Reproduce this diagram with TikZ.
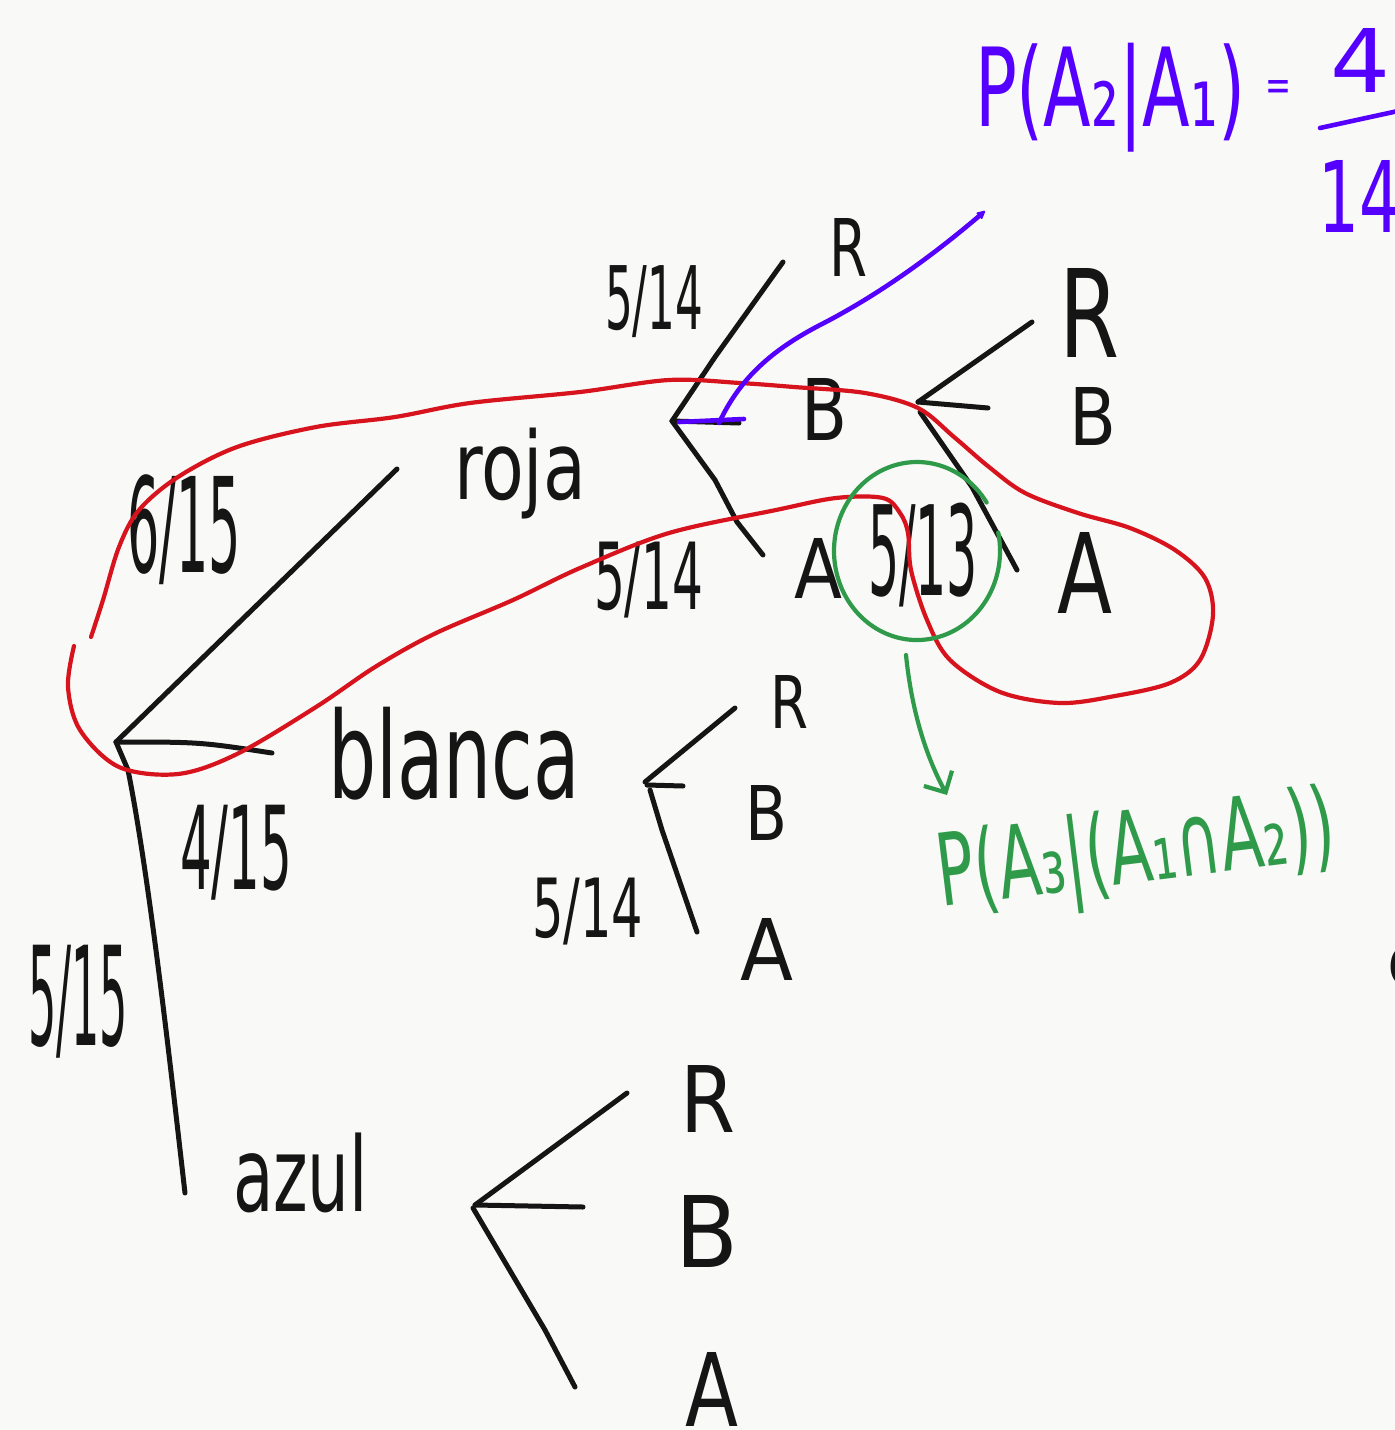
\documentclass[tikz,border=0pt]{standalone}
\usepackage{fontspec}
\setmainfont{DejaVu Sans}
\usetikzlibrary{arrows.meta}
\definecolor{ink}{HTML}{151515}
\definecolor{penred}{HTML}{D7141E}
\definecolor{pengreen}{HTML}{2F9B4A}
\definecolor{penblue}{HTML}{5500FF}
\definecolor{paper}{HTML}{F9F9F7}
% optional node options, name, left x, top y, width, height, text
\newcommand\hw[7][]{\node[hwtext,#1] (#2) at (#3,#4) {\resizebox*{#5pt}{#6pt}{#7}};}
\begin{document}
\begin{tikzpicture}[x=1pt,y=-1pt,
  hwtext/.style={inner sep=0pt, outer sep=0pt, anchor=north west, text=ink},
  branch/.style={draw=ink, line width=5pt, line cap=round, line join=round},
  redpen/.style={draw=penred, line width=4.2pt, line cap=round, line join=round},
  greenpen/.style={draw=pengreen, line width=4.2pt, line cap=round, line join=round},
  bluepen/.style={draw=penblue, line width=4.6pt, line cap=round, line join=round}]
\fill[paper] (0,0) rectangle (1395,1430);
\useasboundingbox (0,0) rectangle (1395,1430);

% ---------- labels ----------
\hw{roja}{454}{428}{132}{91}{roja}
\hw{blanca}{328}{707}{252}{93}{blanca}
\hw{azul}{233}{1133}{135}{80}{azul}
\hw{f615}{127}{475}{114}{110}{6/15}
\hw{f415}{180}{805}{112}{95}{4/15}
\hw{f515}{28}{945}{100}{113}{5/15}
\hw{f514a}{605}{266}{98}{72}{5/14}
\hw{f514b}{594}{542}{109}{76}{5/14}
\hw{f514c}{532}{878}{111}{67}{5/14}
\hw{f513}{868}{503}{110}{104}{5/13}
\hw{R1}{829}{218}{38}{58}{R}
\hw{B1}{801}{378}{46}{62}{B}
\hw{A1}{794}{538}{48}{60}{A}
\hw{R2}{1059}{268}{60}{89}{R}
\hw{B2}{1069}{387}{47}{58}{B}
\hw{A2}{1057}{532}{55}{81}{A}
\hw{R3}{770}{675}{38}{53}{R}
\hw{B3}{745}{785}{42}{55}{B}
\hw{A3}{740}{918}{53}{62}{A}
\hw{R4}{680}{1065}{55}{67}{R}
\hw{B4}{675}{1195}{63}{72}{B}
\hw{A4}{685}{1352}{53}{74}{A}
\hw{edge}{1387}{945}{40}{42}{e}

% ---------- tree ----------
\coordinate (r0) at (116,742);
\coordinate (rojaEnd) at (397,469);
\coordinate (blancaEnd) at (272,753);
\coordinate (azulEnd) at (185,1193);
\draw[branch] (r0) -- (rojaEnd);
\draw[branch] (r0) .. controls (200,742) .. (blancaEnd);
\draw[branch] (r0) -- (128,770) .. controls (150,880) and (172,1080) .. (azulEnd);

\coordinate (j1) at (672,421);
\coordinate (j1R) at (783,262);
\coordinate (j1B) at (739,423);
\coordinate (j1A) at (763,555);
\draw[branch] (j1R) -- (715,357) -- (j1);
\draw[branch] (j1) -- (j1B);
\draw[branch] (j1) -- (715,480) -- (737,522) -- (j1A);

\coordinate (j2) at (918,402);
\coordinate (j2R) at (1032,322);
\coordinate (j2B) at (988,408);
\coordinate (j2A) at (1017,570);
\draw[branch] (j2R) -- (j2);
\draw[branch] (j2) -- (j2B);
\draw[branch] (920,412) -- (972,487) -- (j2A);

\coordinate (j3) at (645,782);
\coordinate (j3R) at (735,708);
\coordinate (j3B) at (683,786);
\coordinate (j3A) at (697,932);
\draw[branch] (j3R) -- (j3);
\draw[branch] (647,785) -- (j3B);
\draw[branch] (650,790) -- (662,830) -- (j3A);

\coordinate (j4) at (475,1205);
\coordinate (j4R) at (627,1093);
\coordinate (j4B) at (583,1207);
\coordinate (j4A) at (575,1387);
\draw[branch] (j4R) -- (j4);
\draw[branch] (j4) -- (j4B);
\draw[branch] (473,1208) -- (545,1330) -- (j4A);

% ---------- red loop ----------
\draw[redpen] plot[smooth, tension=0.55] coordinates {
 (74,646) (68,687) (80,730) (119,767) (178,774) (237,754) (316,707) (375,667)
 (434,634) (513,600) (580,568) (669,533) (776,510) (836,498) (883,498) (900,513)
 (908,533) (911,570) (927,620) (950,660) (1000,692) (1060,703) (1115,696) (1170,683)
 (1200,660) (1213,615) (1205,578) (1175,550) (1130,528) (1078,513)
 (1025,493) (989,467) (954,437) (918,408) (865,393) (794,387) (740,383) (669,380)
 (580,392) (470,403) (395,417) (316,427) (237,447) (178,477) (139,510) (119,547)
 (103,600) (91,637)};

% ---------- green ----------
\draw[greenpen] (998.2,532.5) arc[start angle=-12, end angle=327, x radius=83, y radius=89];
\coordinate (gStart) at (906,655);
\coordinate (gEnd) at (947,795);
\draw[greenpen, -{Straight Barb[length=16pt, width=32pt, line width=4.2pt]}] (gStart) .. controls (912,715) and (928,760) .. (gEnd);
\hw[anchor=center, rotate=7, text=pengreen]{cond3}{1137}{856}{400}{100}{P(A₃|(A₁∩A₂))}

% ---------- blue ----------
\coordinate (bStart) at (719,423);
\coordinate (bEnd) at (985,211);
\draw[bluepen] (679,422) -- (744,419);
\draw[bluepen, -{Stealth[length=11pt, width=11pt, round]}] (bStart) .. controls (740,378) and (772,350) .. (820,325) .. controls (875,297) and (930,258) .. (bEnd);
\hw[text=penblue]{cond2}{975}{43}{270}{109}{P(A₂|A₁)}
\hw[text=penblue]{eq}{1265}{80}{26}{20}{=}
\hw[text=penblue]{num}{1330}{28}{60}{64}{4}
\coordinate (barL) at (1320,128);
\coordinate (barR) at (1398,111);
\draw[bluepen] (barL) -- (barR);
\hw[text=penblue]{den}{1318}{160}{82}{72}{14}
\end{tikzpicture}
\end{document}
